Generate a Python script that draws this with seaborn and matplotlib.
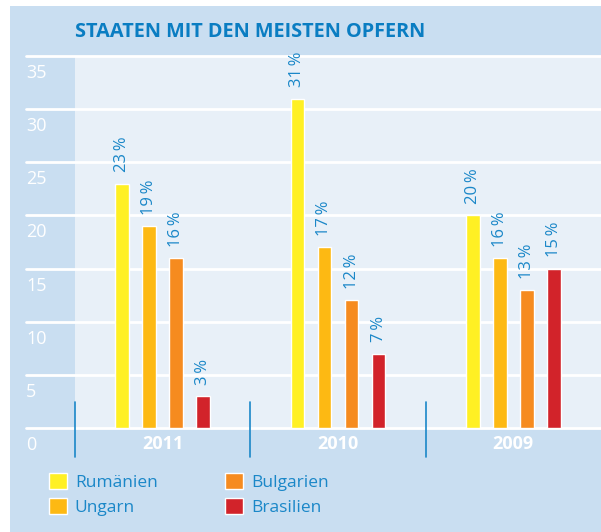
import matplotlib
matplotlib.use("Agg")
import matplotlib.pyplot as plt
from matplotlib.patches import Rectangle
from matplotlib.transforms import ScaledTranslation
import seaborn as sns
import pandas as pd

# ---- data ----
years = ["2011", "2010", "2009"]
countries = ["Rumänien", "Ungarn", "Bulgarien", "Brasilien"]
rumaenien = [23, 31, 20]
ungarn = [19, 17, 16]
bulgarien = [16, 12, 13]
brasilien = [3, 7, 15]
yticks = [0, 5, 10, 15, 20, 25, 30, 35]
ytick_labels = ["0", "5", "10", "15", "20", "25", "30", "35"]
title = "STAATEN MIT DEN MEISTEN OPFERN"

colors = ["#FFF024", "#FDB913", "#F68B1F", "#D2232A"]
dark_bg = "#C9DEF1"
light_bg = "#E8F0F8"
blue = "#1A87C8"
title_blue = "#0A7DC2"

rows = []
for c, vals in zip(countries, [rumaenien, ungarn, bulgarien, brasilien]):
    for y, v in zip(years, vals):
        rows.append({"Jahr": y, "Land": c, "Wert": v})
df = pd.DataFrame(rows)

sns.set_style("white")
plt.rcParams["font.family"] = ["Open Sans", "DejaVu Sans"]

W, H = 601, 532
fig = plt.figure(figsize=(W / 100, H / 100), dpi=100, facecolor="white")
fig.patches.append(Rectangle((10 / W, 0), (W - 10) / W, (H - 6) / H,
                             transform=fig.transFigure, facecolor=dark_bg,
                             edgecolor="none", zorder=-10))

ax_left, ax_right, ax_top, ax_bottom = 75, 601, 56, 428
ax = fig.add_axes([ax_left / W, (H - ax_bottom) / H,
                   (ax_right - ax_left) / W, (ax_bottom - ax_top) / H])
ax.set_facecolor(light_bg)

sns.barplot(data=df, x="Jahr", y="Wert", hue="Land", order=years,
            hue_order=countries, palette=colors, width=0.616, gap=0.5,
            saturation=1, ax=ax, zorder=3)

ax.set_xlim(-0.5, 2.5)
ax.set_ylim(0, 35)
for s in ax.spines.values():
    s.set_visible(False)
ax.set_xlabel("")
ax.set_ylabel("")

axw = ax_right - ax_left
axh = ax_bottom - ax_top
# gridlines
for t in yticks:
    ax.axhline(t, xmin=-(ax_left - 26) / axw, xmax=1, color="white", lw=2,
               clip_on=False, zorder=1)
# separators
for xs in [-0.5, 0.5, 1.5]:
    ax.axvline(xs, ymin=-29 / axh, ymax=26 / axh, color=blue, lw=1.2,
               clip_on=False, zorder=4)

# y tick labels
ax.set_yticks(yticks)
ax.set_yticklabels(ytick_labels)
ax.tick_params(axis="y", length=0, pad=0, labelcolor="white", labelsize=13)
for lab in ax.get_yticklabels():
    lab.set_horizontalalignment("left")
    lab.set_verticalalignment("top")
    lab.set_transform(lab.get_transform() +
                      ScaledTranslation(-(ax_left - 26) / 100, -8 / 100,
                                        fig.dpi_scale_trans))

# x tick labels
ax.tick_params(axis="x", length=0, pad=5, labelcolor="white", labelsize=13)
for lab in ax.get_xticklabels():
    lab.set_fontweight("bold")

# bar labels
for cont in ax.containers:
    ax.bar_label(cont, fmt="{:.0f}\u2009%", rotation=90, padding=8,
                 color=blue, fontsize=12)

# title
fig.text(75 / W, 1 - 32 / H, title, ha="left", va="center",
         fontsize=14.3, fontweight="bold", color=title_blue)

# legend
handles, labels = ax.get_legend_handles_labels()
ax.legend(handles, labels, ncol=2, loc="upper left",
          bbox_to_anchor=(49 / W, 1 - 473 / H), bbox_transform=fig.transFigure,
          frameon=False, fontsize=12.5, labelcolor=blue, handlelength=1.04,
          handleheight=1.04, handletextpad=0.45, columnspacing=3.9,
          labelspacing=0.42, borderpad=0, borderaxespad=0)

fig.savefig("out.png", dpi=100, facecolor="white")
